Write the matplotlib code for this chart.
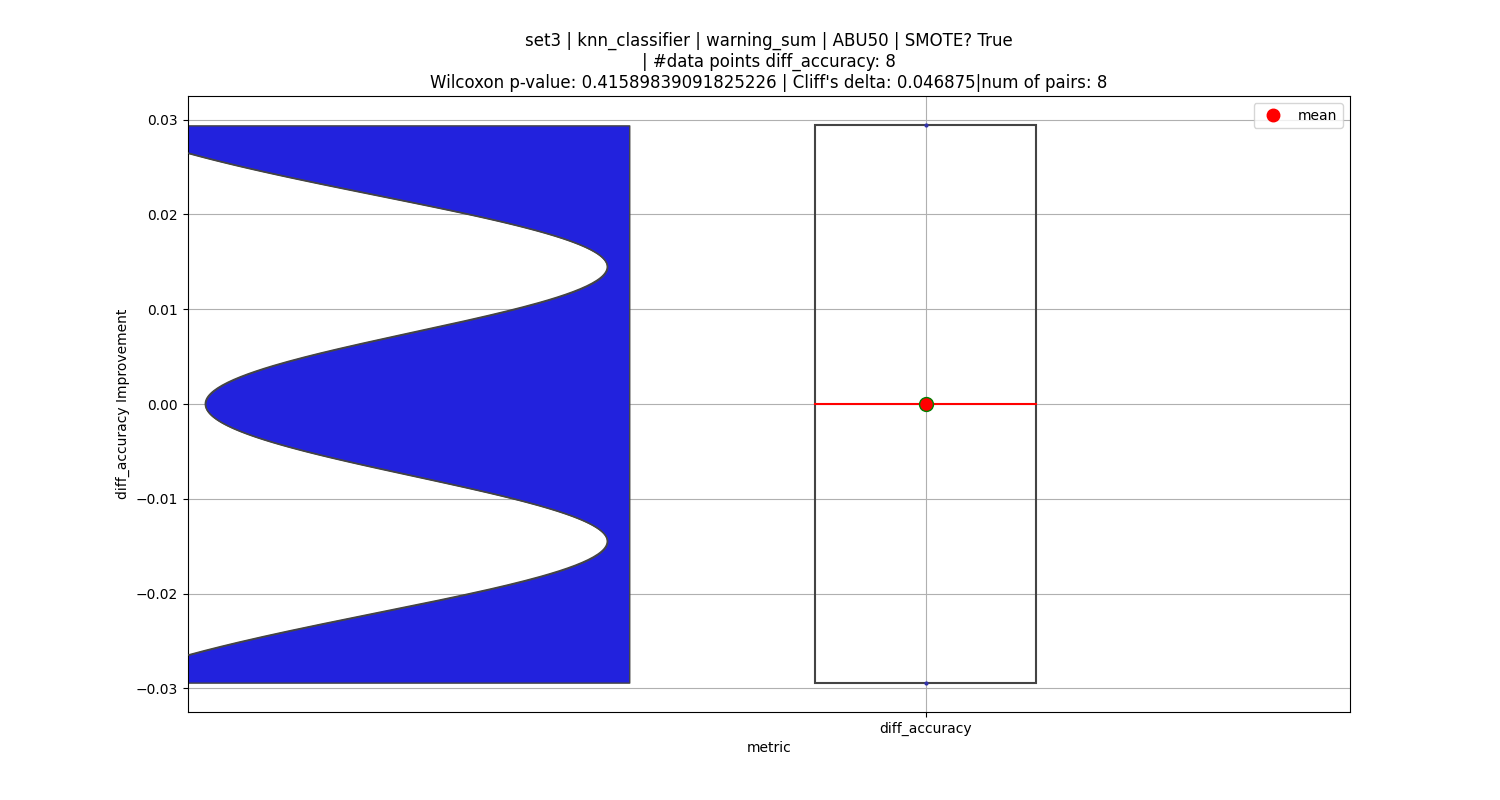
import numpy as np
import matplotlib
matplotlib.use("Agg")
import matplotlib.pyplot as plt

metric = "diff_accuracy"
values = [-0.0294, -0.0145, -0.0145, -0.0145, 0.0145, 0.0145, 0.0145, 0.0294]
title = ("set3 | knn_classifier | warning_sum | ABU50 | SMOTE? True\n"
         "| #data points diff_accuracy: 8\n"
         "Wilcoxon p-value: 0.41589839091825226 | Cliff's delta: 0.046875|num of pairs: 8")

vals = np.array(values)
vmin, vmax = vals.min(), vals.max()

fig, ax = plt.subplots(figsize=(15, 8), dpi=100)
fig.subplots_adjust(left=0.125, right=0.9, top=0.88, bottom=0.11)

# half violin (inverted density), drawn left of the box
ys = np.linspace(vmin, vmax, 400)
sig = 0.0075
d = np.exp(-(ys[:, None] - np.array([-0.0145, 0.0145])[None, :]) ** 2 / (2 * sig ** 2)).sum(axis=1)
f = 1 - d / d.max()
right = -0.51
curve = right - 22 / 581 - 1.0 * f
ax.fill_betweenx(ys, curve, right, color="#2222dd", edgecolor="#444444", linewidth=1, zorder=2)
ax.plot(curve, ys, color="#444444", lw=1, zorder=3)

# box
hw = 0.19
ax.add_patch(plt.Rectangle((-hw, vmin), 2 * hw, vmax - vmin, fill=False,
                           edgecolor="#444444", lw=1.5, zorder=3))
ax.plot([-hw, hw], [np.median(vals)] * 2, color="red", lw=1.5, zorder=4)
ax.scatter([0, 0], [vmin, vmax], s=4, color="#3333aa", zorder=4)
ax.plot([0], [vals.mean()], "o", color="red", markeredgecolor="green", markersize=10, zorder=5)
ax.plot([], [], "o", color="red", markersize=9, linestyle="none", label="mean")

ax.set_xlim(-1.27, 0.73)
ax.set_ylim(-0.0325, 0.0325)
ax.set_xticks([0])
ax.set_xticklabels([metric])
ax.set_yticks([-0.03, -0.02, -0.01, 0.0, 0.01, 0.02, 0.03])
ax.set_yticklabels(["\u22120.03", "\u22120.02", "\u22120.01", "0.00", "0.01", "0.02", "0.03"])
ax.grid(True, zorder=0)
ax.set_axisbelow(True)
ax.set_xlabel("metric")
ax.set_ylabel("diff_accuracy Improvement")
ax.set_title(title)
ax.legend(loc="upper right")

plt.savefig("out.png")
